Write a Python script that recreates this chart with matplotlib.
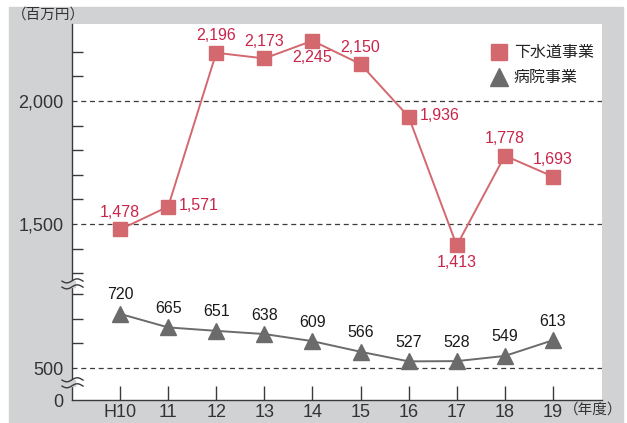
import numpy as np
import matplotlib
matplotlib.use('Agg')
import matplotlib.pyplot as plt
from matplotlib.patches import Rectangle
from matplotlib.lines import Line2D

plt.rcParams['font.family'] = ['Liberation Sans', 'Noto Sans CJK JP', 'DejaVu Sans']

years = ['H10', '11', '12', '13', '14', '15', '16', '17', '18', '19']
sewer = [1478, 1571, 2196, 2173, 2245, 2150, 1936, 1413, 1778, 1693]
hospital = [720, 665, 651, 638, 609, 566, 527, 528, 549, 613]
sewer_name = '下水道事業'
hospital_name = '病院事業'
# where each sewer label sits relative to its marker
sewer_pos = ['above', 'right', 'above', 'above', 'below', 'above', 'right', 'below', 'above', 'above']


def to_axis(v):
    # broken axis: values from 1000 up are shifted down
    return v - 415 if v >= 1000 else v


RED = '#d4686f'
RED_TXT = '#c8254a'
GRAY = '#6b6b6b'
DARK = '#3a3a3a'

fig = plt.figure(figsize=(6.27, 4.23), dpi=100)
fig.patch.set_facecolor('white')
fig.patches.append(Rectangle((9 / 627, 0), 614 / 627, 1 - 7 / 423,
                             transform=fig.transFigure, color='#d1d2d4', zorder=-10))
ax = fig.add_axes([72 / 627, 1 - 400 / 423, 530 / 627, 376 / 423])
ax.set_facecolor('white')

x = np.arange(len(years))
ys = [to_axis(v) for v in sewer]
yh = [to_axis(v) for v in hospital]

ax.set_xlim(-1, 10.02)
ax.set_ylim(370, 1898)

for g in [500, 1500, 2000]:
    ax.axhline(to_axis(g), color=DARK, lw=0.9, dashes=(4, 3), zorder=1)

ax.plot(x, ys, color=RED, lw=1.4, marker='s', ms=10, mfc=RED, mec=RED, zorder=3)
ax.plot(x, yh, color=GRAY, lw=1.4, marker='^', ms=11, mfc=GRAY, mec=GRAY, zorder=3)

offsets = {'above': (0, 17, 'center', 'center'),
           'below': (0, -17, 'center', 'center'),
           'right': (11, 1, 'left', 'center')}
for xi, v, yv, p in zip(x, sewer, ys, sewer_pos):
    dx, dy, ha, va = offsets[p]
    ax.annotate(f'{v:,}', (xi, yv), xytext=(dx, dy), textcoords='offset pixels',
                ha=ha, va=va, fontsize=11.5, color=RED_TXT, zorder=4)
for xi, v, yv in zip(x, hospital, yh):
    ax.annotate(f'{v:,}', (xi, yv), xytext=(0, 19), textcoords='offset pixels',
                ha='center', va='center', fontsize=11.5, color='#1a1a1a', zorder=4)

for s in ['top', 'right']:
    ax.spines[s].set_visible(False)
for s in ['left', 'bottom']:
    ax.spines[s].set_color(DARK)
    ax.spines[s].set_linewidth(1.0)

ax.set_xticks(x)
ax.set_xticklabels(years)
ax.set_yticks([370, 500, to_axis(1500), to_axis(2000)])
ax.set_yticklabels(['0', '500', '1,500', '2,000'])
minor = [600, 700, 800, 1300, 1400, 1600, 1700, 1800, 1900, 2100, 2200]
ax.set_yticks([to_axis(v) for v in minor], minor=True)
ax.tick_params(axis='y', which='major', direction='in', length=0, pad=6,
               labelsize=13, labelcolor='#333333')
ax.tick_params(axis='y', which='minor', direction='in', length=8, width=1, color=DARK)
ax.tick_params(axis='x', direction='in', length=10, width=1, color=DARK, pad=3,
               labelsize=13, labelcolor='#333333')

fig.text(12 / 627, 1 - 15 / 423, '（百万円）', fontsize=10.5, color='#333333',
         ha='left', va='center')
fig.text(622 / 627, 1 - 410 / 423, '（年度）', fontsize=10.5, color='#333333',
         ha='right', va='center')

# legend
ax.plot([0.805], [0.925], transform=ax.transAxes, marker='s', ms=11, color=RED,
        clip_on=False, ls='none')
ax.plot([0.805], [0.858], transform=ax.transAxes, marker='^', ms=13, color=GRAY,
        clip_on=False, ls='none')
ax.text(0.834, 0.925, sewer_name, transform=ax.transAxes, fontsize=11.5,
        ha='left', va='center', color='#222222')
ax.text(0.834, 0.858, hospital_name, transform=ax.transAxes, fontsize=11.5,
        ha='left', va='center', color='#222222')

# break marks on the y axis
for u in [842, 440]:
    bx, by = ax.transData.transform((-1, u))
    t = np.linspace(-10, 11, 40)
    w = 2.0 * np.sin(t / 21 * 2 * np.pi)
    fig.patches.append(Rectangle((bx - 3, by - 3), 6, 6, transform=None,
                                 color='#d1d2d4', zorder=5))
    for off in (3, -3):
        fig.lines.append(Line2D(bx + t, by + off + w, transform=None, color=DARK,
                                lw=1.0, zorder=6))

fig.savefig('out.png', dpi=100)
